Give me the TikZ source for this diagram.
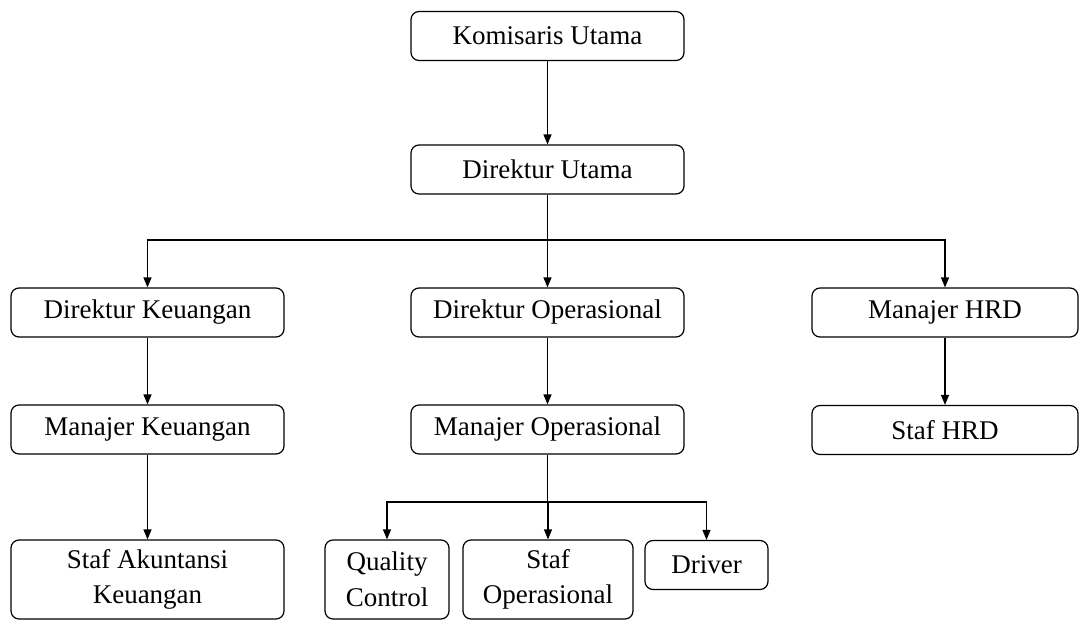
\documentclass[tikz,border=0pt]{standalone}
\usepackage{fontspec}
\setmainfont{Liberation Serif}
\usetikzlibrary{arrows.meta}
\begin{document}
\begin{tikzpicture}[x=1pt,y=-1pt,
  box/.style={draw, rounded corners=8pt, line width=1.2pt, align=center, inner sep=0pt,
    font=\fontsize{27}{35.5}\selectfont, minimum height=49pt},
  conn/.style={line width=1.2pt, -{Triangle[length=10pt,width=8pt]}},
  plain/.style={line width=1.2pt}]
\useasboundingbox (0,0) rectangle (1080,621);
\node[box, minimum width=273pt] (ku) at (547.5,36) {Komisaris Utama};
\node[box, minimum width=273pt] (du) at (547.5,169.5) {Direktur Utama};
\node[box, minimum width=273pt] (dk) at (147.5,312.5) {Direktur Keuangan};
\node[box, minimum width=273pt] (do) at (547.5,312.5) {Direktur Operasional};
\node[box, minimum width=266pt] (mh) at (945,312.5) {Manajer HRD};
\node[box, minimum width=273pt] (mk) at (147.5,429.5) {Manajer Keuangan};
\node[box, minimum width=273pt] (mo) at (547.5,429.5) {Manajer Operasional};
\node[box, minimum width=266pt] (sh) at (945,430) {Staf HRD};
\node[box, minimum width=273pt, minimum height=79pt] (sak) at (147.5,579.5) {Staf Akuntansi\\Keuangan};
\node[box, minimum width=124pt, minimum height=79pt] (qc) at (387,579.5) {Quality\\Control};
\node[box, minimum width=170pt, minimum height=79pt] (so) at (548,579.5) {Staf\\Operasional};
\node[box, minimum width=123pt] (dr) at (706.5,565) {Driver};
\coordinate (bus1) at (547.5,240);
\coordinate (bus2) at (547.5,502);
\draw[conn] (ku) -- (du);
\draw[plain] (du.south) -- (bus1);
\draw[conn] (bus1) -- (do);
\draw[conn] (bus1) -| (dk.north);
\draw[conn] (bus1) -| (mh.north);
\draw[conn] (dk) -- (mk);
\draw[conn] (do) -- (mo);
\draw[conn] (mh) -- (sh);
\draw[conn] (mk) -- (sak);
\draw[plain] (mo.south) -- (bus2);
\draw[conn] (bus2) -| (qc.north);
\draw[conn] (bus2) -- (bus2 -| so.north) -- (so.north);
\draw[conn] (bus2) -| (dr.north);
\end{tikzpicture}
\end{document}
